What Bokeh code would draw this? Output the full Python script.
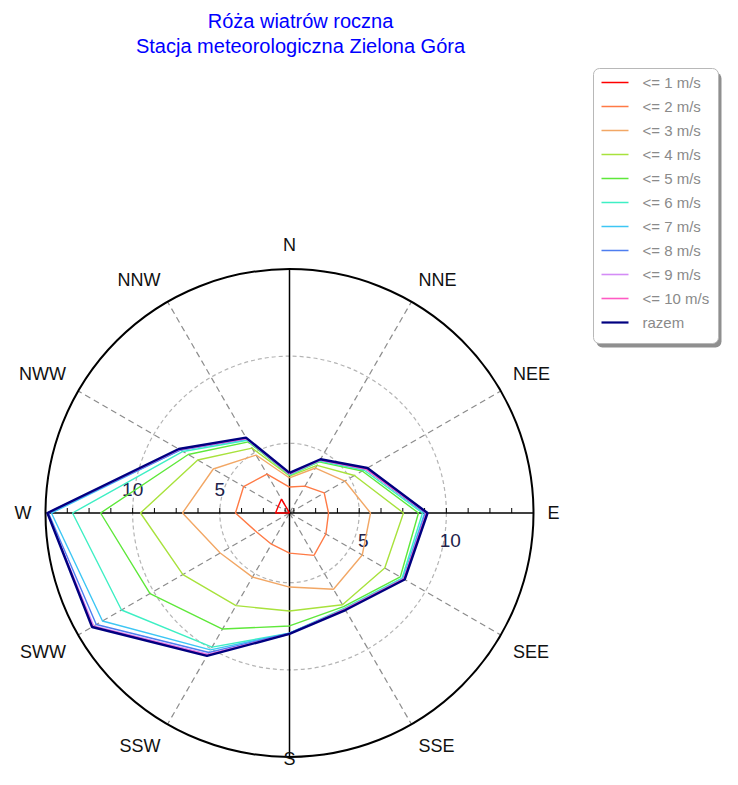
import numpy as np
from bokeh.plotting import figure
from bokeh.models import Range1d
from bokeh.core.properties import value
from bokeh.embed import file_html
from bokeh.resources import INLINE

# ---------------- data ----------------
DIRECTIONS = ["N", "NNE", "NEE", "E", "SEE", "SSE", "S", "SSW", "SWW", "W", "NWW", "NNW"]
ANGLES_DEG = [0, 30, 60, 90, 120, 150, 180, 210, 240, 270, 300, 330]

SERIES_NAMES = ["<= 1 m/s", "<= 2 m/s", "<= 3 m/s", "<= 4 m/s", "<= 5 m/s", "<= 6 m/s",
                "<= 7 m/s", "<= 8 m/s", "<= 9 m/s", "<= 10 m/s", "razem"]

#            N     NNE   NEE   E     SEE   SSE   S     SSW    SWW    W      NWW   NNW
s_le1   = [1.00, 1.00, 1.00, 1.00, 1.00, 1.00, 1.00, 1.00,  1.00,  1.80,  1.75, 1.92]
s_le2   = [2.49, 2.78, 3.30, 3.24, 3.41, 3.81, 3.30, 3.07,  3.18,  4.10,  4.04, 3.58]
s_le3   = [3.01, 3.98, 4.67, 5.65, 5.82, 6.05, 5.25, 5.25,  5.59,  7.14,  6.05, 4.84]
s_le4   = [3.12, 4.16, 5.30, 7.54, 7.31, 7.08, 6.62, 7.14,  8.06,  9.55,  7.08, 5.30]
s_le5   = [3.18, 4.39, 5.82, 8.40, 8.34, 7.20, 7.48, 8.69, 10.24, 11.84,  7.71, 5.71]
s_le6   = [3.18, 4.44, 5.93, 8.63, 8.46, 7.31, 7.89, 9.89, 12.13, 13.45,  8.06, 5.82]
s_le7   = [3.24, 4.50, 6.05, 8.75, 8.52, 7.37, 7.89, 10.07, 13.39, 14.66, 8.23, 5.88]
s_le8   = [3.24, 4.50, 6.05, 8.80, 8.57, 7.37, 7.90, 10.24, 13.80, 14.83, 8.23, 5.93]
s_le9   = [3.24, 4.50, 6.05, 8.86, 8.57, 7.37, 7.94, 10.35, 13.97, 14.89, 8.29, 5.93]
s_le10  = [3.24, 4.50, 6.05, 8.86, 8.57, 7.37, 7.94, 10.41, 14.03, 14.89, 8.29, 5.93]
s_razem = [3.30, 4.56, 6.16, 8.92, 8.63, 7.43, 7.94, 10.47, 14.08, 14.89, 8.34, 5.99]

SERIES = [s_le1, s_le2, s_le3, s_le4, s_le5, s_le6, s_le7, s_le8, s_le9, s_le10, s_razem]
COLORS = ["#FF0000", "#FF7A45", "#F2A765", "#A8E23C", "#5EE83A", "#3EEFC4",
          "#3DC6F4", "#4E7EF0", "#D48CF6", "#FF5AC4", "#000080"]

R_MIN, R_MAX = 1.0, 15.0          # radial axis range
RING_VALUES = [5, 10]
RING_LABELS = ["5", "10"]
TICK_VALUES = [1.25 * i for i in range(1, 12)]

TITLE_1 = "Róża wiatrów roczna"
TITLE_2 = "Stacja meteorologiczna Zielona Góra"

# ---------------- geometry ----------------
W, H = 722, 769
CX, CY = 289.0, H - 512.5      # centre of the rose (canvas units = px)
R_OUT = 244.0
R_LAB = 258.0


def rad(v):
    return (np.asarray(v, dtype=float) - R_MIN) / (R_MAX - R_MIN) * R_OUT


def polar(v, ang_deg):
    r = rad(v)
    a = np.radians(np.asarray(ang_deg, dtype=float))
    return CX + r * np.sin(a), CY + r * np.cos(a)


p = figure(width=W, height=H, x_range=Range1d(0, W), y_range=Range1d(0, H),
           output_backend="svg", toolbar_location=None,
           x_axis_type=None, y_axis_type=None, min_border=0)
p.outline_line_color = None
p.grid.visible = False
p.background_fill_color = "white"
p.border_fill_color = "white"

FONT = value("Liberation Sans")

# dashed range rings
for v in RING_VALUES:
    p.circle(x=CX, y=CY, radius=float(rad(v)), fill_color=None,
             line_color="#b4b4b4", line_dash="4 3", line_width=1.2)

# dashed radial lines (not the main axes)
for a in ANGLES_DEG:
    if a % 90 == 0:
        continue
    x1, y1 = polar(R_MAX, a)
    p.segment(x0=CX, y0=CY, x1=float(x1), y1=float(y1), line_color="#8c8c8c",
              line_dash="6 4", line_width=1.2)

# outer circle
p.circle(x=CX, y=CY, radius=R_OUT, fill_color=None, line_color="black", line_width=2)

# main axes
p.segment(x0=[CX - R_OUT, CX], y0=[CY, CY - R_OUT], x1=[CX + R_OUT, CX], y1=[CY, CY + R_OUT],
          line_color="black", line_width=1.5)

# ticks on horizontal axis
tr = rad(TICK_VALUES)
tx = np.concatenate([CX + tr, CX - tr])
p.segment(x0=tx, y0=CY, x1=tx, y1=CY + 5, line_color="black", line_width=1)

# ring labels
rr = rad(RING_VALUES)
p.text(x=list(CX + rr + 4), y=[CY - 27] * 2, text=RING_LABELS, text_font=FONT,
       text_font_size="19px", text_color="#22224a", text_align="center", text_baseline="middle")
p.text(x=list(CX - rr), y=[CY + 24] * 2, text=RING_LABELS, text_font=FONT,
       text_font_size="19px", text_color="#22224a", text_align="center", text_baseline="middle")

# series polygons
for name, vals, col in zip(SERIES_NAMES, SERIES, COLORS):
    xs, ys = polar(vals + vals[:1], ANGLES_DEG + ANGLES_DEG[:1])
    lw = 2.4 if name == "razem" else 1.4
    p.line(x=xs, y=ys, line_color=col, line_width=lw)

# direction labels: anchored just outside the circle, aligned away from it
for d, a in zip(DIRECTIONS, ANGLES_DEG):
    s, c = np.sin(np.radians(a)), np.cos(np.radians(a))
    ax, ay = CX + R_LAB * s, CY + R_LAB * c
    align = "center" if abs(s) < 1e-6 else ("left" if s > 0 else "right")
    if abs(c) < 1e-6:
        base = "middle"
    else:
        base = "bottom" if c > 0 else "top"
    if d == "S":             # keep the bottom label inside the canvas
        ay, base = 1.0, "bottom"
    p.text(x=[ax], y=[ay], text=[d], text_font=FONT, text_font_size="18px",
           text_color="#111111", text_align=align, text_baseline=base)

# title
p.text(x=[300, 300], y=[H - 20, H - 45], text=[TITLE_1, TITLE_2], text_font=FONT,
       text_font_size="20px", text_color="#0000ff", text_align="center", text_baseline="middle")

# legend box (manual, with shadow)
LX0, LX1, LY0, LY1 = 593, 718, H - 343, H - 68
p.quad(left=LX0 + 3, right=LX1 + 3, bottom=LY0 - 4, top=LY1 - 4, fill_color="#8f8f8f",
       line_color=None, border_radius=6)
p.quad(left=LX0, right=LX1, bottom=LY0, top=LY1, fill_color="white",
       line_color="#b8b8b8", line_width=1, border_radius=6)
row_y = [H - 82 - 24 * i for i in range(len(SERIES_NAMES))]
p.segment(x0=[LX0 + 8] * len(row_y), y0=row_y, x1=[LX0 + 35] * len(row_y), y1=row_y,
          line_color=COLORS, line_width=[2.2 if n == "razem" else 1.6 for n in SERIES_NAMES])
p.text(x=[LX0 + 49] * len(row_y), y=row_y, text=SERIES_NAMES, text_font=FONT,
       text_font_size="15px", text_color="#8a8a8a", text_align="left", text_baseline="middle")

open("out.html", "w").write(file_html(p, INLINE))
